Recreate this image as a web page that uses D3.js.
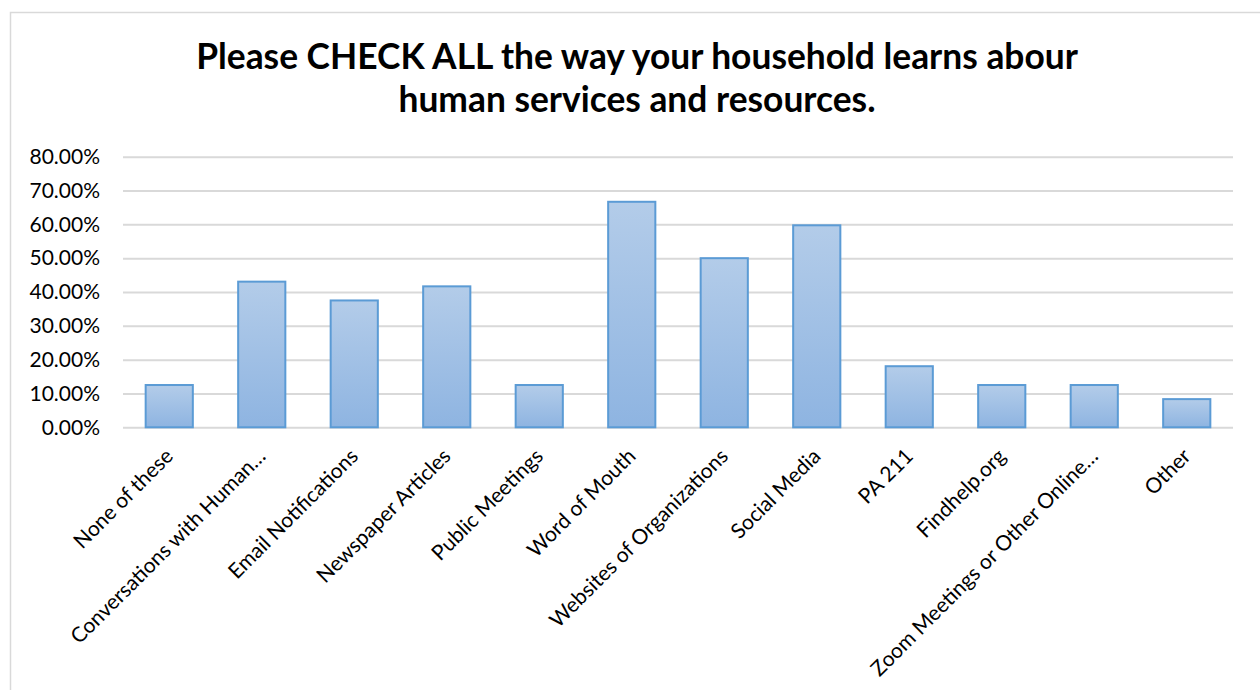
<!DOCTYPE html>
<html>
<head>
<meta charset="utf-8">
<script src="https://cdn.jsdelivr.net/npm/d3@7"></script>
<style>
  html, body { margin: 0; padding: 0; background: #fff; }
  svg { display: block; }
</style>
</head>
<body>
<svg id="chart" width="1260" height="690"></svg>
<script>
// Survey answers: share of households using each information source
const categories = [
  "None of these",
  "Conversations with Human…",
  "Email Notifications",
  "Newspaper Articles",
  "Public Meetings",
  "Word of Mouth",
  "Websites of Organizations",
  "Social Media",
  "PA 211",
  "Findhelp.org",
  "Zoom Meetings or Other Online…",
  "Other"
];
const values = [12.5, 43.06, 37.5, 41.67, 12.5, 66.67, 50.0, 59.72, 18.06, 12.5, 12.5, 8.33];
const yTicks = [0, 10, 20, 30, 40, 50, 60, 70, 80];
const titleLines = [
  "Please CHECK ALL the way your household learns abour",
  "human services and resources."
];

const svg = d3.select("#chart");
const W = 1260, H = 690;
const plot = { left: 123, right: 1233, top: 156.7, bottom: 427.3 };
const labelFont = "Lato, sans-serif";

// Chart area frame (top and left edges visible)
svg.append("path")
  .attr("d", `M10.5,${H} L10.5,12.5 L${W},12.5`)
  .attr("fill", "none")
  .attr("stroke", "#d9d9d9")
  .attr("stroke-width", 1.5);

// Bar gradient
const defs = svg.append("defs");
const grad = defs.append("linearGradient")
  .attr("id", "barFill").attr("x1", 0).attr("y1", 0).attr("x2", 0).attr("y2", 1);
grad.append("stop").attr("offset", "0%").attr("stop-color", "#b3cce9");
grad.append("stop").attr("offset", "100%").attr("stop-color", "#8eb4e1");

const x = d3.scaleBand()
  .domain(categories)
  .range([plot.left, plot.right])
  .paddingInner(0.49)
  .paddingOuter(0.245);

const y = d3.scaleLinear()
  .domain([0, 80])
  .range([plot.bottom, plot.top]);

// Horizontal gridlines and y labels
const yAxis = d3.axisLeft(y)
  .tickValues(yTicks)
  .tickSize(-(plot.right - plot.left))
  .tickPadding(23)
  .tickFormat(d => d.toFixed(2) + "%");

const gy = svg.append("g")
  .attr("transform", `translate(${plot.left},0)`)
  .call(yAxis);
gy.select(".domain").remove();
gy.selectAll(".tick line").attr("stroke", "#d9d9d9").attr("stroke-width", 2);
gy.selectAll(".tick text")
  .attr("fill", "#000")
  .style("font-family", labelFont)
  .style("font-size", "21px");

// Bars
svg.append("g")
  .selectAll("rect")
  .data(values)
  .join("rect")
  .attr("x", (d, i) => x(categories[i]))
  .attr("y", d => y(d))
  .attr("width", x.bandwidth())
  .attr("height", d => y(0) - y(d))
  .attr("fill", "url(#barFill)")
  .attr("stroke", "#5b9bd5")
  .attr("stroke-width", 2);

// Category labels, rotated
const xAxis = d3.axisBottom(x).tickSize(0).tickPadding(0);
const gx = svg.append("g")
  .attr("transform", `translate(0,${plot.bottom})`)
  .call(xAxis);
gx.select(".domain").remove();
gx.selectAll(".tick text")
  .attr("fill", "#000")
  .style("font-family", labelFont)
  .style("font-size", "21px")
  .attr("text-anchor", "end")
  .attr("dy", "0.35em")
  .attr("transform", "translate(0,25) rotate(-45)");

// Title, sized so the first line spans the set width
const titleWidth = 882;
const title = svg.append("text")
  .attr("text-anchor", "middle")
  .style("font-family", "Lato, sans-serif")
  .style("font-weight", "bold")
  .style("font-size", "31px")
  .attr("fill", "#000");
title.selectAll("tspan")
  .data(titleLines)
  .join("tspan")
  .attr("x", 637)
  .attr("y", (d, i) => 69 + i * 43)
  .text(d => d);
const firstLen = title.select("tspan").node().getComputedTextLength();
if (firstLen > 0) title.style("font-size", (31 * titleWidth / firstLen).toFixed(2) + "px");
</script>
</body>
</html>
